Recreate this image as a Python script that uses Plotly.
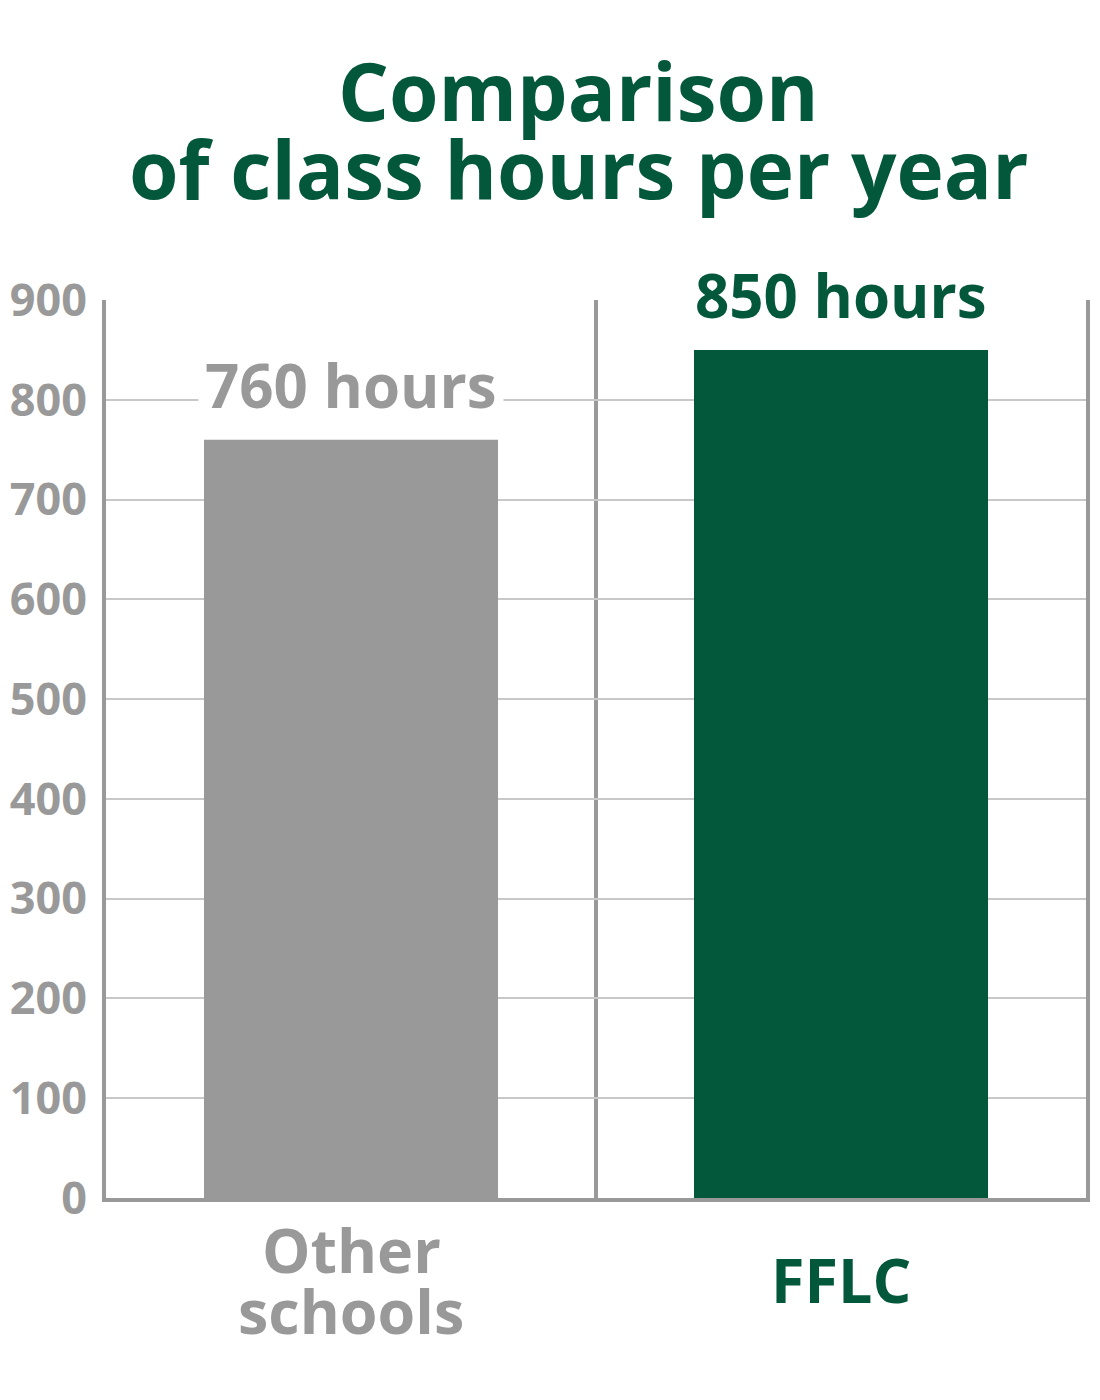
import plotly.graph_objects as go

categories = ["Other schools", "FFLC"]
cat_lines = [["Other", "schools"], ["FFLC"]]
hours = [760, 850]
value_labels = ["760 hours", "850 hours"]
y_ticks = [0, 100, 200, 300, 400, 500, 600, 700, 800, 900]
title_lines = ["Comparison", "of class hours per year"]

GREEN = "#03573B"
GRAY = "#999999"
colors = [GRAY, GREEN]
FONT = "Open Sans"

fig = go.Figure()
fig.add_trace(go.Bar(
    x=categories, y=hours, marker=dict(color=colors, line=dict(width=0)),
    width=0.6, hoverinfo="skip",
))

for cat, v, lab, col in zip(categories, hours, value_labels, colors):
    fig.add_annotation(
        x=cat, y=v, xref="x", yref="y", text=f"<b>{lab}</b>", showarrow=False,
        yanchor="middle", yshift=55,
        font=dict(family=FONT, size=60, color=col),
        bgcolor="white", borderpad=6,
    )

# category labels (one annotation per line for tight line spacing)
cat_line_y = {1: [-0.0913], 2: [-0.0579, -0.1258]}
for cat, lines, col in zip(categories, cat_lines, colors):
    for ln, yy in zip(lines, cat_line_y[len(lines)]):
        fig.add_annotation(
            x=cat, xref="x", y=yy, yref="paper", text=f"<b>{ln}</b>",
            showarrow=False, yanchor="middle",
            font=dict(family=FONT, size=61, color=col),
        )

# title lines
for ln, yy in zip(title_lines, [1.2339, 1.1481]):
    fig.add_annotation(
        x=0.482, xref="paper", y=yy, yref="paper", text=f"<b>{ln}</b>",
        showarrow=False, xanchor="center", yanchor="middle",
        font=dict(family=FONT, size=80, color=GREEN),
    )

fig.update_layout(
    width=1084, height=1370,
    margin=dict(l=94, r=2, t=292, b=180),
    paper_bgcolor="white", plot_bgcolor="white",
    showlegend=False,
    xaxis=dict(
        range=[-0.5, 1.5], showticklabels=False, ticks="",
        tickson="boundaries", showgrid=True, gridcolor=GRAY, gridwidth=4,
        showline=True, linecolor=GRAY, linewidth=4, mirror=False,
        zeroline=False, fixedrange=True,
    ),
    yaxis=dict(
        range=[0, 900], tickvals=y_ticks, ticktext=[f"<b>{t}</b>" for t in y_ticks],
        tickfont=dict(family=FONT, size=45, color=GRAY),
        showgrid=True, gridcolor="#C8C8C8", gridwidth=2,
        showline=True, linecolor=GRAY, linewidth=4, mirror=True,
        zeroline=False, ticks="", ticklabelstandoff=6,
        fixedrange=True,
    ),
)

fig.write_html("out.html")
